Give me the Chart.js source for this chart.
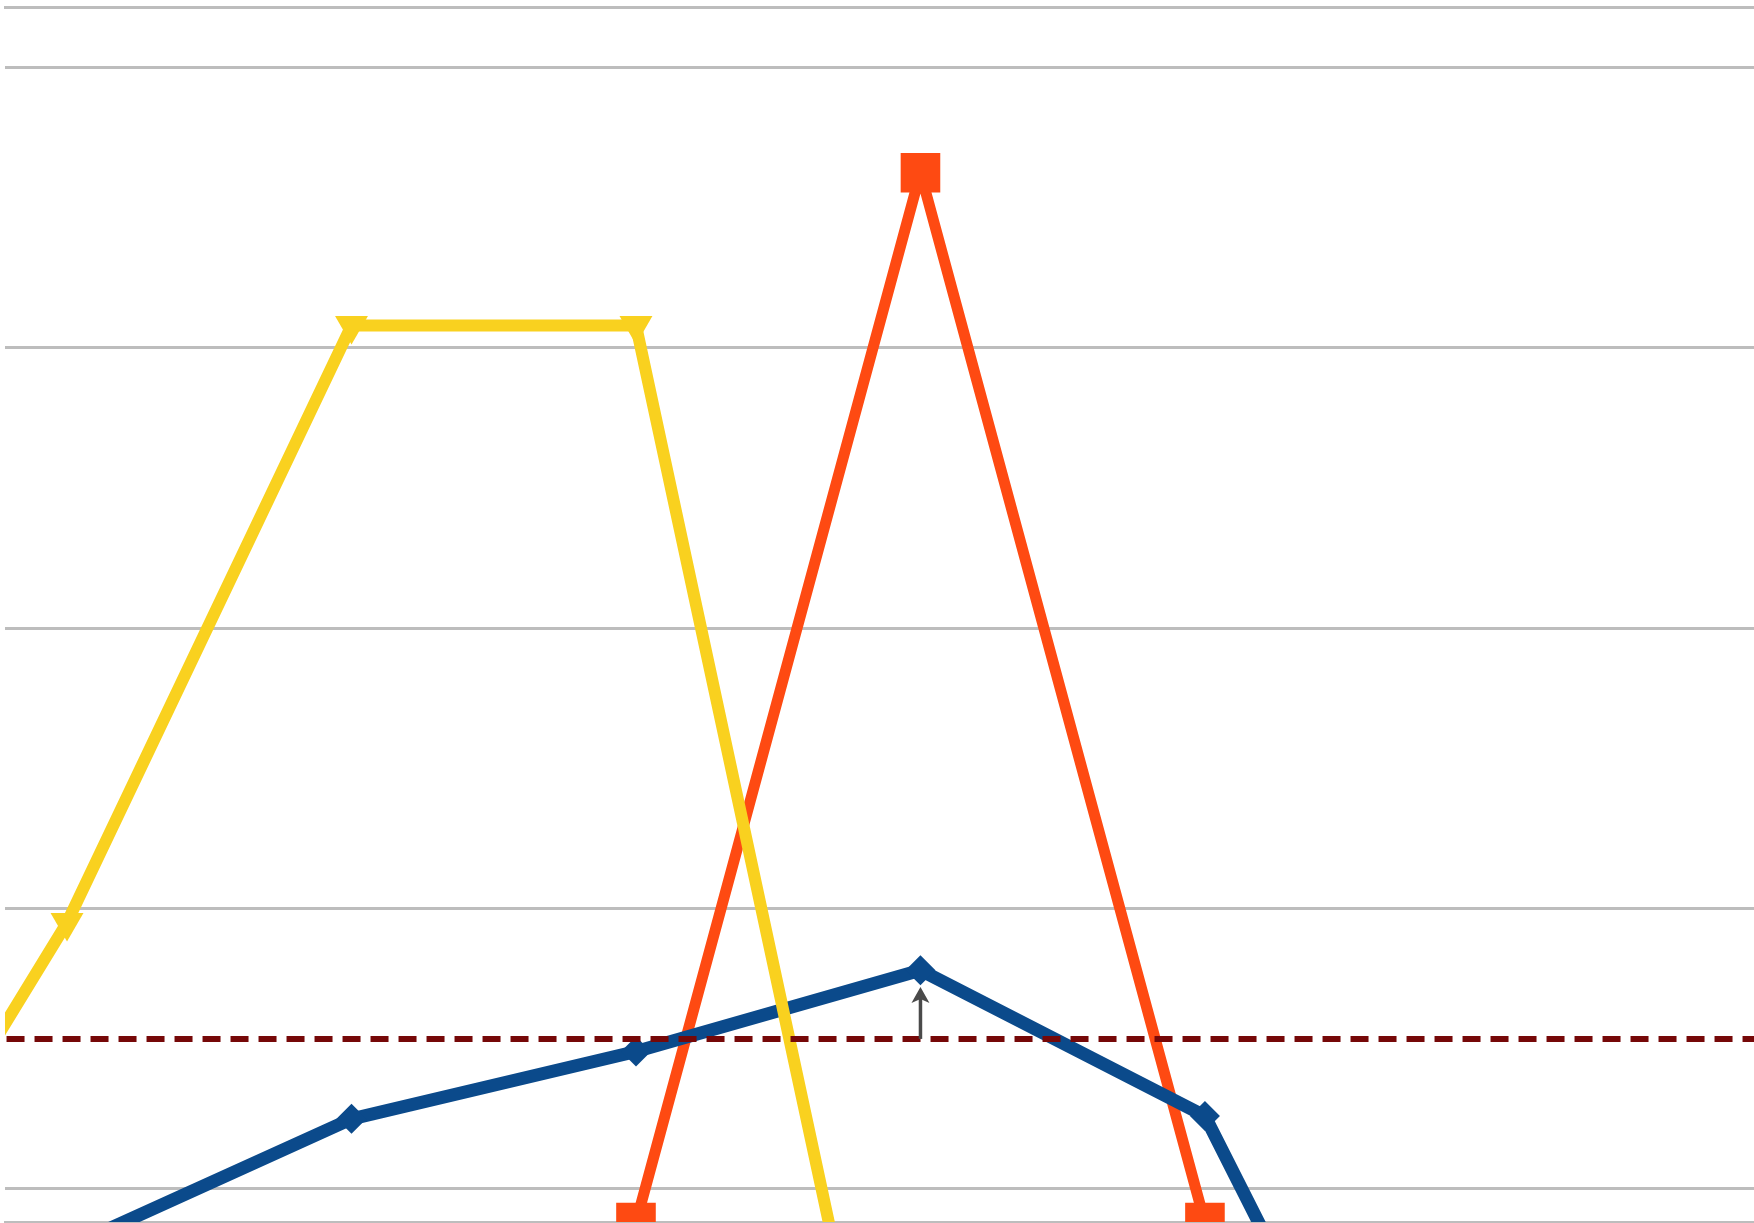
<!DOCTYPE html>
<html>
<head>
<meta charset="utf-8">
<script src="https://cdn.jsdelivr.net/npm/chart.js@4.4.1/dist/chart.umd.min.js"></script>
<style>
  html, body { margin: 0; padding: 0; background: #fff; overflow: hidden; }
  #wrap { width: 1754px; height: 1223px; position: relative; }
  canvas { display: block; }
</style>
</head>
<body>
<div id="wrap"><canvas id="chart"></canvas></div>
<script>
// x categories (index positions); only 1..5 fall inside the cropped view
const categories = [0, 1, 2, 3, 4, 5, 6, 7];

// series values
const yellowValues = [-0.71, 0.95, 3.08, 3.08, -1.64, null, null, null];
const orangeValues = [null, null, null, -0.12, 3.625, -0.12, null, null];
const blueValues   = [null, -0.21, 0.25, 0.49, 0.78, 0.26, -1.75, null];

// dashed reference level and the small arrow above it
const thresholdValue = 0.535;
const arrowAt = 4;
const arrowFrom = 0.535;
const arrowTo = 0.72;

// horizontal grid levels
const gridValues = [0, 1, 2, 3, 4];

const toPoints = vals => vals.map((v, i) => ({ x: categories[i], y: v }));

// Arrow drawn in data space
const arrowPlugin = {
  id: 'arrow',
  afterDatasetsDraw(chart) {
    const { ctx, scales } = chart;
    const x = scales.x.getPixelForValue(arrowAt);
    const y0 = scales.y.getPixelForValue(arrowFrom);
    const y1 = scales.y.getPixelForValue(arrowTo);
    ctx.save();
    ctx.strokeStyle = '#4a4a4a';
    ctx.fillStyle = '#4a4a4a';
    ctx.lineWidth = 3.5;
    ctx.beginPath();
    ctx.moveTo(x, y0);
    ctx.lineTo(x, y1 + 8);
    ctx.stroke();
    ctx.beginPath();
    ctx.moveTo(x, y1);
    ctx.lineTo(x - 9, y1 + 16);
    ctx.lineTo(x, y1 + 12);
    ctx.lineTo(x + 9, y1 + 16);
    ctx.closePath();
    ctx.fill();
    ctx.restore();
  }
};

const ctx = document.getElementById('chart').getContext('2d');
new Chart(ctx, {
  type: 'line',
  data: {
    datasets: [
      {
        label: 'threshold',
        data: [{ x: categories[0], y: thresholdValue }, { x: categories[categories.length - 1], y: thresholdValue }],
        borderColor: '#760808',
        borderWidth: 6,
        borderDash: [18, 10],
        pointRadius: 0,
        order: 0
      },
      {
        label: 'yellow',
        data: toPoints(yellowValues),
        borderColor: '#f9d11f',
        backgroundColor: '#f9d11f',
        borderWidth: 12,
        borderJoinStyle: 'round',
        pointStyle: 'triangle',
        rotation: 180,
        pointRadius: 19,
        pointBorderWidth: 0,
        order: 1
      },
      {
        label: 'blue',
        data: toPoints(blueValues),
        borderColor: '#0b4a8b',
        backgroundColor: '#0b4a8b',
        borderWidth: 13,
        pointStyle: 'rectRot',
        pointRadius: 15,
        pointBorderWidth: 0,
        order: 2
      },
      {
        label: 'orange',
        data: toPoints(orangeValues),
        borderColor: '#fe4a12',
        backgroundColor: '#fe4a12',
        borderWidth: 11,
        borderJoinStyle: 'round',
        pointStyle: 'rect',
        pointRadius: 28,
        pointBorderWidth: 0,
        order: 3
      }
    ]
  },
  options: {
    responsive: true,
    maintainAspectRatio: false,
    animation: false,
    spanGaps: false,
    layout: { autoPadding: false, padding: { left: 5, top: 7, right: 0, bottom: 1 } },
    plugins: { legend: { display: false }, tooltip: { enabled: false } },
    scales: {
      x: {
        type: 'linear',
        min: 0.782,
        max: 6.93,
        ticks: { display: false },
        grid: { display: false, drawTicks: false },
        border: { display: true, color: '#bdbdbd', width: 3 }
      },
      xTop: {
        type: 'linear',
        position: 'top',
        min: 0.782,
        max: 6.93,
        ticks: { display: false },
        grid: { display: false, drawTicks: false },
        border: { display: true, color: '#bdbdbd', width: 3 }
      },
      y: {
        min: -0.118,
        max: 4.216,
        afterBuildTicks: scale => { scale.ticks = gridValues.map(v => ({ value: v })); },
        ticks: { display: false },
        grid: { color: '#bdbdbd', lineWidth: 3, drawTicks: false },
        border: { display: false }
      }
    }
  },
  plugins: [arrowPlugin]
});
</script>
</body>
</html>
